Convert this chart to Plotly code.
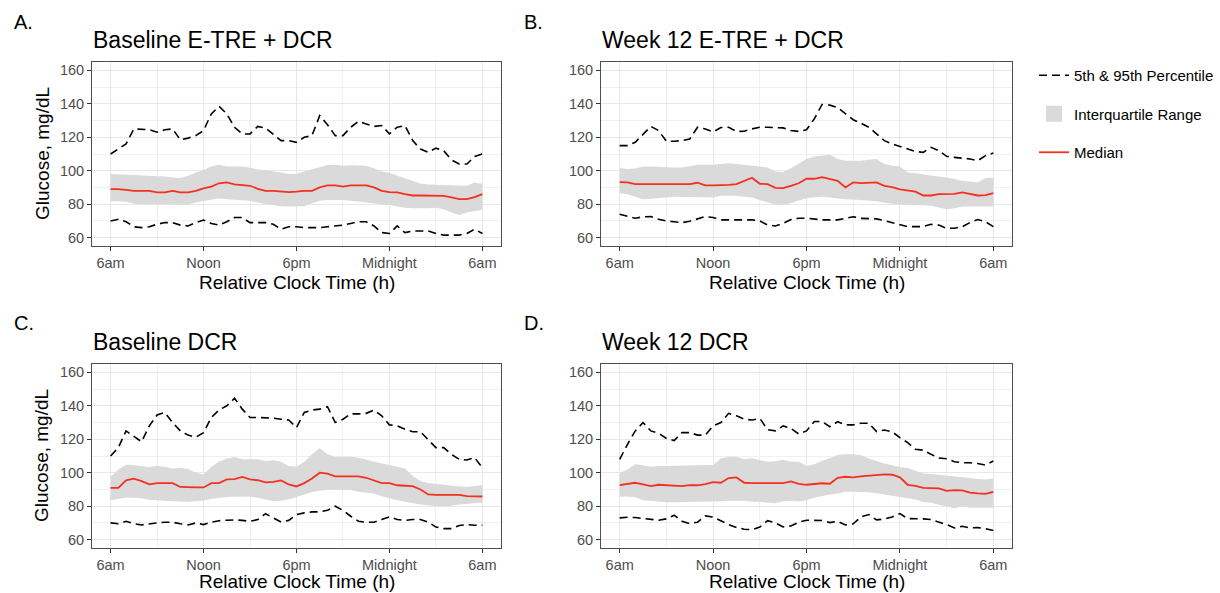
import plotly.graph_objects as go

HOURS = [i * 0.5 for i in range(49)]  # hours after 6am
TICK_VALS = [0, 6, 12, 18, 24]
TICK_TEXT = ["6am", "Noon", "6pm", "Midnight", "6am"]
Y_TICKS = [60, 80, 100, 120, 140, 160]

PANEL_LETTERS = ["A.", "B.", "C.", "D."]
PANEL_TITLES = ["Baseline E-TRE + DCR", "Week 12 E-TRE + DCR", "Baseline DCR", "Week 12 DCR"]
LEGEND_NAMES = ["5th & 95th Percentile", "Interquartile Range", "Median"]

A_P95 = [110,113,116,125,124.6,124.5,123,124.5,125,118.5,119.5,121,124,134,138.5,134,126,122,122,126.5,125.5,122,118,118,117,120,121,133,127.5,121,121,126,129.5,128,126.5,127,122,126,127,118,113,111,113.5,112,106.5,104,104,108.5,110]
A_P5 = [70,71,69.5,66.5,66,66.5,68,69,69,67.5,67,69,70.5,68.5,67.5,69.5,72,72,69,69,69,68,65,66.5,66.5,66,66,66,66.5,67,67.5,68.5,69.5,69.5,67,63,62.5,67,63,64,64,64,62.5,61.5,61.5,61.5,62.5,65,62.5]
A_MED = [89,89,88.5,88,88,88,87,87,88,87,87,88,89.5,90.5,92.5,93,91.8,91.4,91,89.2,88,88,87.5,87.2,87.5,88,88,90,91.2,91.2,90.5,91.2,91.2,91.2,90,88,87.2,87,86,85.2,85.2,85.2,85.2,85,84,83,83,84.2,86]
A_Q75 = [98,97.8,97.6,97.6,97.3,97,96.8,96.5,96,95.6,97,99,100.5,102.5,103.5,102.5,102.5,102.5,101.8,100.8,100.4,99.5,98.7,98,98.2,99.5,100.8,102.5,103.4,103.5,103,103.2,103.2,103,101.5,99.5,98.6,97,95.5,93.5,92.3,91.8,91.6,91.4,91.2,91,91,93,92]
A_Q25 = [81.6,81.8,81.5,80.2,80,80,80,80,80,79.8,79.7,81,82,83,83.6,83,82.6,82.5,82,81,80,79.5,78.8,78.6,78.6,78.7,80.5,82,82.5,82.7,82.5,82,81.6,81,80.5,80,79.5,78.5,77.8,77.5,77.4,77.5,77.8,77,75,73.6,75,76,76.6]

B_P95 = [115,115,117,122,126.5,124,117.6,117.6,118,119,126,125,123.2,125.8,126,123.5,123.6,125,126,126,125.8,125.6,124,123.5,124.5,131,139.6,139.2,137.8,134.3,130.5,128.4,126,122,118,116,114.6,113,111.5,111,114,112,108.6,108,107.6,107,106,109,110.6]
B_P5 = [74,73,71.6,72.4,72.6,71,70,69.5,69,69.8,71,72.6,72,70.6,70.6,70.6,70.6,70.6,70,67.5,67,68.5,70.8,71.6,71.6,71,70.6,70.6,70.6,71.5,72.5,71.5,71.2,71.2,70.2,69,67.5,66.6,66.6,66.6,68,67.5,65.6,65.6,66.5,69,70.8,69.5,66.6]
B_MED = [93.2,93,92,92,92,92,92,92,92,92,92.8,91.2,91.2,91.2,91.6,92,94,95.8,92.2,92,89.8,89.6,91,92.5,95.2,95.2,96.2,95,94,90,93,92.6,92.8,93,91,90.2,88.8,88,87.5,85.2,85.2,86,86,86.2,87,86,85.2,85.4,86.6]
B_Q75 = [101.6,101,101.4,102.6,102.5,102.2,102,102,102,103,103.6,103.5,103.5,104,104.5,104,103.5,103,102.5,102,99.5,99.2,101.5,104.5,107,108.5,109.2,109.6,107,106,106,106,106.5,107,104,103,102.6,99,98.5,98,97.2,96.5,96,95,94,93.5,93,95.6,95.6]
B_Q25 = [86.6,86,84.5,83,83.2,83.8,84,84.4,84.4,84.4,84.2,84,84,85,85,85,84.5,84,82.5,81,79.8,79.6,80.5,82.2,83.5,84.2,84.4,84,83.4,83,82.8,82.5,82.2,81.7,80.8,80.3,79.6,79.6,79.6,79.4,79,78.2,77,77.5,78.6,78.6,78.6,78.6,78.6]

C_P95 = [110,115,125,122,118.5,128,134.5,136,130,125,122.5,121.2,124,133,137.5,140,144.5,138,133,133,133,132.6,132,131.5,127,136,137.5,138,139.5,130,132,135.2,135.2,135.5,137.5,134,128.6,128,126,124.5,124.5,120,115,115,111,108,107.6,109,103]
C_P5 = [70,69.5,71,69.5,68.8,69.5,70,70.4,70.4,69.5,68.8,70,69,70.4,71.3,71.6,71.8,71.5,71,72,75.5,73,70.5,71.5,75,76,76.6,76.6,77.5,80,77.5,74,71,70.4,70.4,72,73.6,72,71.5,72,72,70.5,67.5,66.6,66.6,68.5,69,68.6,68.6]
C_MED = [91,91,95.5,96.5,95,93,93.8,93.8,93.8,91.5,91.2,91.2,91.2,93.8,93.8,96,96.2,97.5,96,95.5,94.2,94.5,95.4,93,91.8,93.8,96.5,100,99.5,97.8,97.8,97.8,97.8,97,95.5,93.8,93.8,92.5,92.2,92,90,87,86.8,86.8,86.8,86.8,86,85.8,85.8]
C_Q75 = [97.6,102,104.8,104.6,103.8,103.4,104,103.5,102.5,103,102.2,100,99,103.5,106.5,108.5,109.4,108,108,108,107,107.5,106.5,104,103.6,106.5,111,114.6,111,109.6,109.6,109.6,109,107.8,106.5,105.5,104.6,103.6,102.5,98,95,93.8,93.5,92.8,92.2,91.8,91.5,92,92.6]
C_Q25 = [83.6,84.5,85.2,85,84.8,83.8,83.4,83.2,83,82.8,82.6,83,83.2,84.5,85.2,85.5,85.6,85.6,85.6,85,83.8,83,83.2,84,85.5,87,88.5,89.2,89.8,89.8,89.8,89.6,88.6,88.2,87.6,86,84.6,83.5,82.6,81.6,81,80.6,80,80,80.2,81,81.5,82,82.2]

D_P95 = [108,117,125,130,125,123.6,120.5,119.2,124,124,122.5,122.5,128,130,135.5,134,132,131.5,132.5,125.8,125,128,126.5,123.2,125,130.6,130.6,127.5,130.5,128.6,128.6,129.6,129.6,124.6,125.5,124.5,121,118,114,113.5,111,108.8,108.4,106.6,106,106,105.5,104.6,107]
D_P5 = [73,73.4,73.2,72.6,72,71.6,72.4,74.6,71,69.6,70.4,74.2,73.5,71,69,67.3,66.2,66,67.5,71.3,70,67.6,68.2,70.4,71.6,71.5,71.4,70.2,71,68.8,69.5,73.6,75,71.8,72.3,73.5,75.6,72.6,72.6,72.4,72,70.6,69,67,68,67,67.2,66.6,65.4]
D_MED = [92.6,93.3,94,93,92,92.8,92.4,92,92,92.6,92.5,93.2,94.4,94,96.8,97.2,94,93.8,93.8,93.8,93.8,93.8,94.8,93.4,92.8,93.2,93.7,93.4,97,97.6,97.2,97.8,98.2,98.7,99,98.8,97.2,92.8,92.2,91,90.6,90.6,89.2,89.6,89.5,88.1,87.6,87.4,88.6]
D_Q75 = [100,102,105,104.5,103.5,104,104,104,104.2,104.4,104.4,104.6,104.6,108.5,109.6,109.6,108,108.6,107.6,106.5,106.8,107.8,106.5,106.5,104,105,107,109,110.6,111,111,110.5,108.5,107,105.5,104.5,103.4,102.8,101.2,99.6,99.2,98.8,98.4,97.6,97.2,96.8,96.3,96,96.5]
D_Q25 = [85.6,85.8,85.4,83.6,83.2,82.6,82.3,82.4,82.5,82.2,82.4,82.7,82.8,83,83.2,83.4,83.2,82.6,82.6,82,81.8,83,83.3,82.8,83.5,85,86.2,87,87.6,88.6,88.6,88.6,88.4,87.8,87,86.3,85.6,85,84,82.5,82,80.8,80,78.6,80,79,79,79,79]

PANELS = [
    (A_P95, A_P5, A_MED, A_Q75, A_Q25),
    (B_P95, B_P5, B_MED, B_Q75, B_Q25),
    (C_P95, C_P5, C_MED, C_Q75, C_Q25),
    (D_P95, D_P5, D_MED, D_Q75, D_Q25),
]

W, H = 1220, 593
# plot areas in pixels: (left, right, top, bottom)
BOXES = [(92, 501, 62, 246), (601, 1012, 62, 246), (92, 501, 364, 548), (601, 1012, 364, 548)]

RIBBON = "#dadada"
RED = "#f4311f"
DASH = "8px,5px"
FONT = "Liberation Sans, Arial, sans-serif"

fig = go.Figure()
layout = dict()

for i, (p95, p5, med, q75, q25) in enumerate(PANELS):
    n = "" if i == 0 else str(i + 1)
    xa, ya = "x" + n, "y" + n
    first = i == 0
    fig.add_trace(go.Scatter(x=HOURS, y=q25, xaxis=xa, yaxis=ya, mode="lines",
                             line=dict(width=0, color=RIBBON), showlegend=False, hoverinfo="skip"))
    fig.add_trace(go.Scatter(x=HOURS, y=q75, xaxis=xa, yaxis=ya, mode="lines", fill="tonexty",
                             fillcolor=RIBBON, line=dict(width=0, color=RIBBON), showlegend=False,
                             hoverinfo="skip"))
    fig.add_trace(go.Scatter(x=HOURS, y=p95, xaxis=xa, yaxis=ya, mode="lines",
                             line=dict(color="black", width=1.6, dash=DASH),
                             name=LEGEND_NAMES[0], legendgroup="pct", legendrank=1,
                             showlegend=first))
    fig.add_trace(go.Scatter(x=HOURS, y=p5, xaxis=xa, yaxis=ya, mode="lines",
                             line=dict(color="black", width=1.6, dash=DASH),
                             name=LEGEND_NAMES[0], legendgroup="pct", showlegend=False))
    fig.add_trace(go.Scatter(x=HOURS, y=med, xaxis=xa, yaxis=ya, mode="lines",
                             line=dict(color=RED, width=1.8),
                             name=LEGEND_NAMES[2], legendgroup="med", legendrank=3,
                             showlegend=first))

    l, r, t, b = BOXES[i]
    axis_common = dict(showline=True, mirror=True, linecolor="#4d4d4d", linewidth=1,
                       ticks="outside", ticklen=4, tickcolor="#333333", tickwidth=1,
                       showgrid=True, gridcolor="#e8e8e8", gridwidth=1.4, zeroline=False,
                       tickfont=dict(family=FONT, size=14.5, color="#4d4d4d"))
    layout["xaxis" + n] = dict(axis_common, domain=[l / W, r / W], anchor=ya,
                               range=[-1.2, 25.2], tickmode="array", tickvals=TICK_VALS,
                               ticktext=TICK_TEXT,
                               minor=dict(tickvals=[3, 9, 15, 21], showgrid=True,
                                          gridcolor="#f0f0f0", gridwidth=0.9, ticks=""))
    layout["yaxis" + n] = dict(axis_common, domain=[1 - b / H, 1 - t / H], anchor=xa,
                               range=[55, 165], tickmode="array", tickvals=Y_TICKS,
                               minor=dict(tickvals=[70, 90, 110, 130, 150], showgrid=True,
                                          gridcolor="#f0f0f0", gridwidth=0.9, ticks=""))

# legend-only key for the interquartile range
fig.add_trace(go.Scatter(x=[None], y=[None], mode="markers",
                         marker=dict(symbol="square", size=22, color=RIBBON),
                         name=LEGEND_NAMES[1], legendgroup="iqr", legendrank=2, showlegend=True))

ann = []
LETTER_POS = [(12, 22), (522, 22), (12, 323), (522, 323)]
TITLE_POS = [(91, 40), (600, 40), (91, 342), (600, 342)]
XTITLE_Y = [282, 282, 581, 581]
for i in range(4):
    lx, ly = LETTER_POS[i]
    ann.append(dict(text=PANEL_LETTERS[i], x=lx / W, y=1 - ly / H, xref="paper", yref="paper",
                    xanchor="left", yanchor="middle", showarrow=False,
                    font=dict(family=FONT, size=20, color="black")))
    tx, ty = TITLE_POS[i]
    ann.append(dict(text=PANEL_TITLES[i], x=tx / W, y=1 - ty / H, xref="paper", yref="paper",
                    xanchor="left", yanchor="middle", showarrow=False,
                    font=dict(family=FONT, size=23, color="black")))
    l, r, t, b = BOXES[i]
    ann.append(dict(text="Relative Clock Time (h)", x=(l + r) / 2 / W, y=1 - XTITLE_Y[i] / H,
                    xref="paper", yref="paper", xanchor="center", yanchor="middle",
                    showarrow=False, font=dict(family=FONT, size=19, color="black")))
    if i in (0, 2):
        ann.append(dict(text="Glucose, mg/dL", x=42 / W, y=1 - (t + b) / 2 / H, xref="paper",
                        yref="paper", xanchor="center", yanchor="middle", textangle=-90,
                        showarrow=False, font=dict(family=FONT, size=19, color="black")))

fig.update_layout(
    width=W, height=H, margin=dict(l=0, r=0, t=0, b=0),
    paper_bgcolor="white", plot_bgcolor="white",
    annotations=ann,
    legend=dict(x=1034 / W, y=1 - 59 / H, xanchor="left", yanchor="top",
                font=dict(family=FONT, size=15, color="black"), tracegroupgap=16,
                itemwidth=30, bgcolor="rgba(0,0,0,0)", traceorder="grouped"),
    **layout,
)

fig.write_html("out.html")
